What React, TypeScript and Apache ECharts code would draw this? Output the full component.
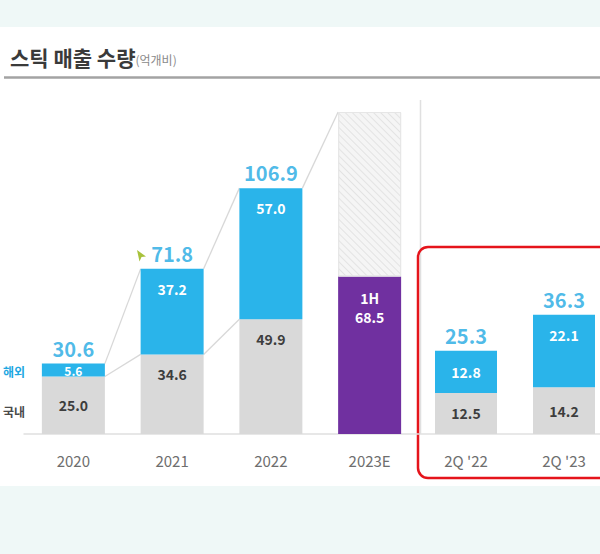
import React, { useEffect, useRef } from "react";
import * as echarts from "echarts";

const categories = ["2020", "2021", "2022", "2023E"];
const domestic = [25.0, 34.6, 49.9];
const overseas = [5.6, 37.2, 57.0];
const totals = [30.6, 71.8, 106.9];
const firstHalf2023 = 68.5;
const estimate2023 = 140;

const quarterCats = ["2Q '22", "2Q '23"];
const quarterDomestic = [12.5, 14.2];
const quarterOverseas = [12.8, 22.1];
const quarterTotals = [25.3, 36.3];

const FONT = "'Noto Sans CJK KR', 'Noto Sans', sans-serif";
const BLUE = "#2ab4ea";
const BLUE_TEXT = "#1fa8e2";
const GRAY = "#d9d9d9";
const PURPLE = "#7030a0";
const BAR_W = 63;

function segItem(v: number, big: number, color: string) {
  const small = v < 8;
  return {
    value: v,
    label: {
      show: true,
      position: v > big ? "insideTop" : "inside",
      distance: 13,
      color,
      fontSize: small ? 12 : 14,
      lineHeight: small ? 11 : 14,
      fontWeight: 600,
      formatter: (p: any) => Number(p.value).toFixed(1),
    },
  };
}

export default function App() {
  const ref = useRef<HTMLDivElement>(null);
  useEffect(() => {
    const chart = echarts.init(ref.current as HTMLDivElement, null, { renderer: "svg" });
    const connectors: number[][] = [];
    for (let i = 0; i < totals.length - 1; i++) {
      connectors.push([i, totals[i], i + 1, totals[i + 1]]);
      connectors.push([i, domestic[i], i + 1, domestic[i + 1]]);
    }
    connectors.push([2, totals[2], 3, estimate2023]);

    const axisLabel = { color: "#6e6e6e", fontSize: 15, margin: 19, fontFamily: FONT };
    const totalLabel = {
      show: true,
      position: "top",
      distance: 6,
      color: BLUE_TEXT,
      fontSize: 20,
      lineHeight: 18,
      fontWeight: "bold",
      fontFamily: FONT,
      formatter: (p: any) => Number(p.value).toFixed(1),
    };
    const axisLineStyle = { color: "#e0e0e0", width: 1.5 };

    const option: any = {
      animation: false,
      backgroundColor: "#eff8f7",
      textStyle: { fontFamily: FONT },
      grid: [
        { left: 24, width: 395, top: 89, height: 345 },
        { left: 466, width: 98, top: 89, height: 345 },
      ],
      xAxis: [
        {
          type: "category",
          gridIndex: 0,
          data: categories,
          axisTick: { show: false },
          axisLine: { lineStyle: axisLineStyle },
          axisLabel,
        },
        {
          type: "category",
          gridIndex: 1,
          data: quarterCats,
          boundaryGap: false,
          axisTick: { show: false },
          axisLine: { show: false },
          splitLine: { show: false },
          axisLabel,
        },
      ],
      yAxis: [
        { type: "value", gridIndex: 0, min: 0, max: 150, show: false },
        { type: "value", gridIndex: 1, min: 0, max: 105, show: false },
      ],
      graphic: [
        { type: "rect", z: -10, shape: { x: 0, y: 27, width: 600, height: 459 }, style: { fill: "#ffffff" }, silent: true },
        {
          type: "text",
          x: 10,
          y: 57,
          style: {
            text: "{a|스틱 매출 수량}{b|(억개비)}",
            verticalAlign: "middle",
            rich: {
              a: { fontSize: 21, fontWeight: "bold", fill: "#3a3a3a", fontFamily: FONT },
              b: { fontSize: 12, fill: "#8a8a8a", fontFamily: FONT, padding: [4, 0, 0, 0] },
            },
          },
        },
        { type: "line", shape: { x1: 4, y1: 77.5, x2: 600, y2: 77.5 }, style: { stroke: "#a3a3a3", lineWidth: 2.5 } },
        { type: "line", shape: { x1: 420.5, y1: 100, x2: 420.5, y2: 434 }, style: { stroke: "#e0e0e0", lineWidth: 1.5 } },
        { type: "line", shape: { x1: 419, y1: 434, x2: 600, y2: 434 }, style: { stroke: "#e0e0e0", lineWidth: 1.5 } },
        {
          type: "rect",
          shape: { x: 418, y: 247, width: 200, height: 231, r: 10 },
          style: { fill: "none", stroke: "#e5141b", lineWidth: 2.5 },
        },
        { type: "text", x: 3, y: 371, style: { text: "해외", fontSize: 12, fontWeight: "bold", fill: BLUE_TEXT, fontFamily: FONT, verticalAlign: "middle" } },
        { type: "text", x: 3, y: 411, style: { text: "국내", fontSize: 12, fontWeight: "bold", fill: "#4a4a4a", fontFamily: FONT, verticalAlign: "middle" } },
        {
          type: "polygon",
          shape: { points: [[137, 250], [146, 256.5], [141.5, 257], [139.5, 261.5]] },
          style: { fill: "#a8c23c" },
        },
      ],
      series: [
        {
          type: "bar",
          xAxisIndex: 0,
          yAxisIndex: 0,
          stack: "y",
          barWidth: BAR_W,
          itemStyle: { color: GRAY },
          data: [...domestic.map((v) => segItem(v, 25, "#3d3d3d")), "-"],
        },
        {
          type: "bar",
          xAxisIndex: 0,
          yAxisIndex: 0,
          stack: "y",
          barWidth: BAR_W,
          itemStyle: { color: BLUE },
          data: [...overseas.map((v) => segItem(v, 20, "#ffffff")), "-"],
        },
        {
          type: "bar",
          xAxisIndex: 0,
          yAxisIndex: 0,
          stack: "y",
          barWidth: BAR_W,
          itemStyle: { color: PURPLE },
          data: [
            "-",
            "-",
            "-",
            {
              value: firstHalf2023,
              label: {
                show: true,
                position: "insideTop",
                distance: 12,
                color: "#ffffff",
                fontSize: 14,
                fontWeight: 600,
                lineHeight: 19,
                formatter: (p: any) => "1H\n" + Number(p.value).toFixed(1),
              },
            },
          ],
        },
        {
          type: "bar",
          xAxisIndex: 0,
          yAxisIndex: 0,
          stack: "y",
          barWidth: BAR_W,
          itemStyle: {
            color: "#f5f5f5",
            borderColor: "#e6e6e6",
            borderWidth: 1,
            decal: {
              symbol: "rect",
              color: "#e3e3e3",
              dashArrayX: [1, 0],
              dashArrayY: [1, 4],
              rotation: Math.PI / 4,
            },
          },
          data: ["-", "-", "-", estimate2023 - firstHalf2023],
        },
        {
          type: "scatter",
          xAxisIndex: 0,
          yAxisIndex: 0,
          symbolSize: 1,
          itemStyle: { color: "rgba(0,0,0,0)" },
          label: totalLabel,
          data: totals,
        },
        {
          type: "custom",
          xAxisIndex: 0,
          yAxisIndex: 0,
          encode: { x: 0, y: 1 },
          z: 1,
          renderItem: (params: any, api: any) => {
            const a = api.coord([api.value(0), api.value(1)]);
            const b = api.coord([api.value(2), api.value(3)]);
            const hw = BAR_W / 2;
            return {
              type: "line",
              shape: { x1: a[0] + hw, y1: a[1], x2: b[0] - hw, y2: b[1] },
              style: { stroke: "#d8d8d8", lineWidth: 1.3 },
            };
          },
          data: connectors,
        },
        {
          type: "bar",
          xAxisIndex: 1,
          yAxisIndex: 1,
          stack: "q",
          barWidth: BAR_W - 1,
          clip: false,
          itemStyle: { color: GRAY },
          data: quarterDomestic.map((v) => segItem(v, 25, "#3d3d3d")),
        },
        {
          type: "bar",
          xAxisIndex: 1,
          yAxisIndex: 1,
          stack: "q",
          barWidth: BAR_W - 1,
          clip: false,
          itemStyle: { color: BLUE },
          data: quarterOverseas.map((v) => segItem(v, 20, "#ffffff")),
        },
        {
          type: "scatter",
          xAxisIndex: 1,
          yAxisIndex: 1,
          symbolSize: 1,
          clip: false,
          itemStyle: { color: "rgba(0,0,0,0)" },
          label: totalLabel,
          data: quarterTotals,
        },
      ],
    };
    chart.setOption(option);
    return () => chart.dispose();
  }, []);
  return <div ref={ref} style={{ position: "absolute", left: 0, top: 0, width: 600, height: 554 }} />;
}
